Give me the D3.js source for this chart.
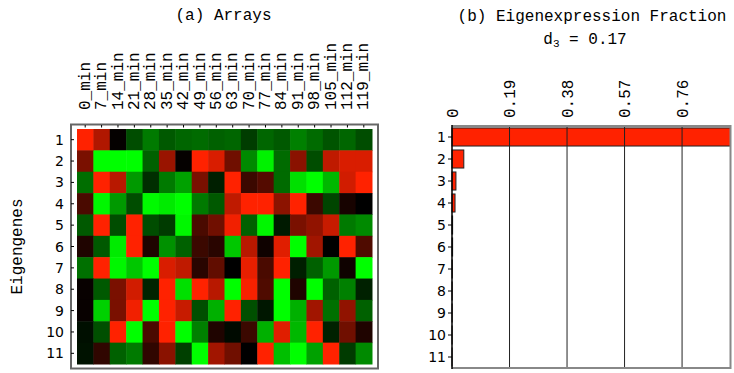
<!DOCTYPE html>
<html>
<head>
<meta charset="utf-8">
<script src="https://cdn.jsdelivr.net/npm/d3@7"></script>
<style>
  body { margin: 0; background: #fff; }
  svg { display: block; }
</style>
</head>
<body>
<div id="chart"></div>
<script>
// column labels of the arrays panel
const arrays = ["0_min","7_min","14_min","21_min","28_min","35_min","42_min","49_min","56_min",
  "63_min","70_min","77_min","84_min","91_min","98_min","105_min","112_min","119_min"];
const eigengenes = [1,2,3,4,5,6,7,8,9,10,11];

// signed expression levels, + = red, - = green
const row1  = [1.0,0.69,0.02,-0.3,-0.48,-0.35,-0.4,-0.42,-0.38,-0.4,-0.24,-0.4,-0.35,-0.5,-0.42,-0.33,-0.4,-0.3];
const row2  = [0.48,-1,-1,-1,-0.38,0.6,0.02,1.0,0.85,0.44,-0.54,-0.95,-0.42,0.54,-0.3,0.75,0.85,0.85];
const row3  = [-0.43,1.0,0.72,-0.6,-0.18,-0.48,-0.63,0.48,-0.12,1.0,0.23,0.33,-0.42,-0.88,-1,-0.72,0.82,1.0];
const row4  = [0.29,-0.97,-0.6,-0.3,-0.98,-0.92,-1,-0.48,-0.35,0.75,1.0,1.0,0.55,1.0,0.23,-0.27,0.09,0.0];
const row5  = [-0.35,1.0,-0.3,1.0,-0.3,-0.23,-0.97,0.29,0.44,0.95,-0.38,-0.97,-0.1,0.48,0.57,0.78,-0.48,-0.54];
const row6  = [0.12,-0.35,-0.92,1.0,0.12,-0.57,-0.38,0.23,0.16,-0.78,0.72,0.06,0.88,-1,0.63,0.0,1.0,0.31];
const row7  = [-0.44,1.0,-0.97,-0.78,-1,0.85,0.75,0.16,0.38,0.0,0.91,0.29,1.0,-0.12,-0.38,-0.6,0.06,-1];
const row8  = [0.03,-0.35,0.48,0.82,-0.14,1.0,-0.88,1.0,0.72,-1,0.97,0.31,-1,0.12,-1,-0.38,-0.5,-0.13];
const row9  = [0.03,-0.82,0.48,0.95,-1,1.0,0.78,-0.31,-0.69,1.0,-0.31,-0.09,-1,-0.69,0.63,-0.44,0.57,-0.38];
const row10 = [-0.06,-0.31,1.0,-1,0.29,1.0,-1,-0.5,0.12,-0.04,0.23,-0.69,0.88,-0.72,1.0,-0.13,0.44,0.12];
const row11 = [-0.07,0.19,-0.38,-0.48,0.19,0.54,-0.25,-1,0.63,0.44,0.0,1.0,-0.75,-1,-0.63,1.0,-0.23,-0.54];
const matrix = [row1,row2,row3,row4,row5,row6,row7,row8,row9,row10,row11];

// eigenexpression fractions
const fractions = [0.92,0.039,0.013,0.010,0.002,0.002,0.001,0.0006,0.0005,0.0004,0.0003];
const fractionTicks = [0, 0.19, 0.38, 0.57, 0.76];
const entropy = "0.17";

const width = 734, height = 373;
const mono = "'Liberation Mono', 'Courier New', monospace";
const sans = "'DejaVu Sans', sans-serif";
const red = "#ff2200", green = "#00ff00";

const svg = d3.select("#chart").append("svg")
  .attr("width", width)
  .attr("height", height)
  .attr("viewBox", [0, 0, width, height]);

// ---- (a) Arrays heatmap
const hm = { left: 77, right: 372, top: 129, bottom: 364 };

const x = d3.scaleBand().domain(arrays).range([hm.left, hm.right]);
const y = d3.scaleBand().domain(eigengenes).range([hm.top, hm.bottom]);

const posColor = d3.interpolateRgb("#000000", red);
const negColor = d3.interpolateRgb("#000000", green);
const cellColor = v => v >= 0 ? posColor(v) : negColor(-v);

svg.append("text")
  .attr("x", (hm.left + hm.right) / 2 - 1)
  .attr("y", 20)
  .attr("text-anchor", "middle")
  .attr("font-family", mono)
  .attr("font-size", 16)
  .text("(a) Arrays");

const cells = [];
matrix.forEach((row, i) => row.forEach((v, j) => cells.push({ r: eigengenes[i], c: arrays[j], v })));

svg.append("g")
  .selectAll("rect")
  .data(cells)
  .join("rect")
  .attr("x", d => x(d.c))
  .attr("y", d => y(d.r))
  .attr("width", x.bandwidth() + 0.5)
  .attr("height", y.bandwidth() + 0.5)
  .attr("fill", d => cellColor(d.v));

// frame
svg.append("rect")
  .attr("x", hm.left - 6)
  .attr("y", hm.top - 4.5)
  .attr("width", hm.right - hm.left + 12)
  .attr("height", hm.bottom - hm.top + 9)
  .attr("fill", "none")
  .attr("stroke", "#666")
  .attr("stroke-width", 2);

// top ticks + rotated labels
const topAxis = svg.append("g");
topAxis.selectAll("line")
  .data(arrays)
  .join("line")
  .attr("x1", d => x(d) + x.bandwidth() / 2)
  .attr("x2", d => x(d) + x.bandwidth() / 2)
  .attr("y1", hm.top - 4)
  .attr("y2", hm.top - 1.5)
  .attr("stroke", "#000");
topAxis.selectAll("text")
  .data(arrays)
  .join("text")
  .attr("transform", d => `translate(${x(d) + x.bandwidth() / 2 - 1},110) rotate(-90)`)
  .attr("dy", "0.35em")
  .attr("font-family", mono)
  .attr("font-size", 16)
  .text(d => d);

// left ticks + row labels
const leftAxis = svg.append("g");
leftAxis.selectAll("line")
  .data(eigengenes)
  .join("line")
  .attr("x1", hm.left - 6)
  .attr("x2", hm.left - 3)
  .attr("y1", d => y(d) + y.bandwidth() / 2)
  .attr("y2", d => y(d) + y.bandwidth() / 2)
  .attr("stroke", "#000");
leftAxis.selectAll("text")
  .data(eigengenes)
  .join("text")
  .attr("x", 64)
  .attr("y", d => y(d) + y.bandwidth() / 2)
  .attr("dy", "0.36em")
  .attr("text-anchor", "end")
  .attr("font-family", sans)
  .attr("font-size", 14)
  .text(d => d);

svg.append("text")
  .attr("transform", `translate(22,${(hm.top + hm.bottom) / 2}) rotate(-90)`)
  .attr("text-anchor", "middle")
  .attr("font-family", mono)
  .attr("font-size", 16)
  .text("Eigengenes");

// ---- (b) Eigenexpression fraction bars
const bc = { left: 452, right: 730.5, top: 126, bottom: 368 };

const bx = d3.scaleLinear().domain([0, d3.max(fractions)]).range([bc.left, bc.right]);
const by = d3.scaleBand().domain(eigengenes).range([bc.top, bc.bottom])
  .paddingInner(0.18).paddingOuter(0.09);

svg.append("text")
  .attr("x", 592)
  .attr("y", 21)
  .attr("text-anchor", "middle")
  .attr("font-family", mono)
  .attr("font-size", 16)
  .text("(b) Eigenexpression Fraction");

const sub = svg.append("text")
  .attr("x", 585)
  .attr("y", 44)
  .attr("text-anchor", "middle")
  .attr("font-family", mono)
  .attr("font-size", 16);
sub.append("tspan").text("d");
sub.append("tspan").attr("font-size", 11).attr("dy", 3).text("3");
sub.append("tspan").attr("dy", -3).text(` = ${entropy}`);

// bars
svg.append("g")
  .selectAll("rect")
  .data(fractions)
  .join("rect")
  .attr("x", bx(0))
  .attr("y", (d, i) => by(eigengenes[i]))
  .attr("width", d => bx(d) - bx(0))
  .attr("height", by.bandwidth())
  .attr("fill", red)
  .attr("stroke", "#222")
  .attr("stroke-width", 1);

// grid lines
svg.append("g")
  .selectAll("line")
  .data(fractionTicks.slice(1))
  .join("line")
  .attr("x1", d => bx(d))
  .attr("x2", d => bx(d))
  .attr("y1", bc.top)
  .attr("y2", bc.bottom)
  .attr("stroke", "#222")
  .attr("stroke-width", 1);

// frame: gray top/right/bottom, black left axis
svg.append("path")
  .attr("d", `M${bc.left},${bc.top} H${bc.right} V${bc.bottom} H${bc.left}`)
  .attr("fill", "none")
  .attr("stroke", "#888")
  .attr("stroke-width", 2);
svg.append("line")
  .attr("x1", bc.left).attr("x2", bc.left)
  .attr("y1", bc.top - 1).attr("y2", bc.bottom + 1)
  .attr("stroke", "#000")
  .attr("stroke-width", 1.5);

// top tick labels
svg.append("g")
  .selectAll("text")
  .data(fractionTicks)
  .join("text")
  .attr("transform", d => `translate(${bx(d)},118) rotate(-90)`)
  .attr("dy", "0.35em")
  .attr("font-family", mono)
  .attr("font-size", 16)
  .text(d => d === 0 ? "0" : d3.format(".2f")(d));

// row ticks and labels
svg.append("g")
  .selectAll("line")
  .data(eigengenes)
  .join("line")
  .attr("x1", bc.left - 4)
  .attr("x2", bc.left)
  .attr("y1", d => by(d) + by.bandwidth() / 2)
  .attr("y2", d => by(d) + by.bandwidth() / 2)
  .attr("stroke", "#000");
svg.append("g")
  .selectAll("text")
  .data(eigengenes)
  .join("text")
  .attr("x", 446)
  .attr("y", d => by(d) + by.bandwidth() / 2)
  .attr("dy", "0.36em")
  .attr("text-anchor", "end")
  .attr("font-family", sans)
  .attr("font-size", 14)
  .text(d => d);
</script>
</body>
</html>
